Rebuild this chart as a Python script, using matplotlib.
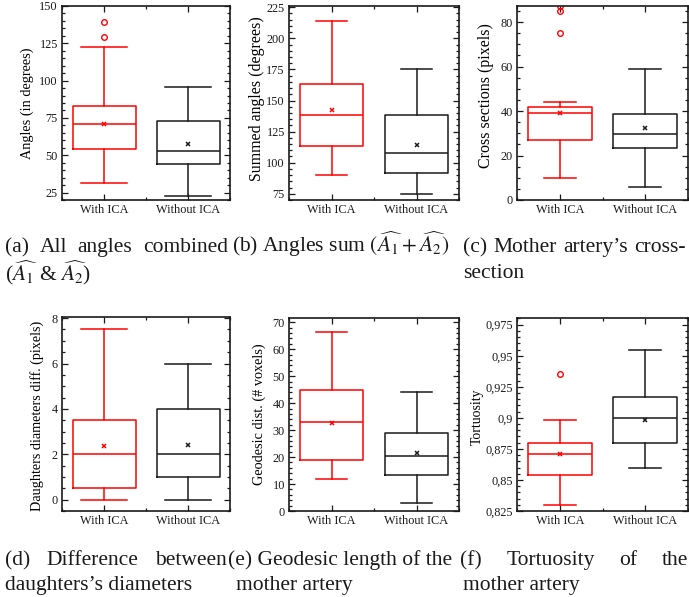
import numpy as np
import matplotlib
matplotlib.use('Agg')
import matplotlib.pyplot as plt
from matplotlib.ticker import MultipleLocator, AutoMinorLocator, FuncFormatter

plt.rcParams['font.family'] = ['Liberation Serif', 'DejaVu Serif']
plt.rcParams['mathtext.fontset'] = 'stix'

W, H = 689, 597
RED = '#ff0000'
BLACK = '#1a1a1a'

groups = ['With ICA', 'Without ICA']

# whisker low, q1, median, q3, whisker high
angles_with = [31.5, 54, 71, 83, 122.5]
angles_with_mean = 71
angles_with_out = [129.3, 139.5]
angles_without = [23, 44, 53, 73, 95.5]
angles_without_mean = 57.5

sum_with = [90, 113.5, 138.5, 163, 214]
sum_with_mean = 142
sum_without = [74.5, 92, 108, 138, 175.5]
sum_without_mean = 114.5

cross_with = [10, 27, 39, 42, 44]
cross_with_mean = 39
cross_with_out = [75, 85, 87]
cross_without = [6, 23.5, 29.5, 38.8, 59]
cross_without_mean = 32.5

diam_with = [0, 0.5, 2, 3.5, 7.5]
diam_with_mean = 2.35
diam_without = [0, 1, 2, 4, 6]
diam_without_mean = 2.4

geo_with = [12, 19, 33, 45, 66.5]
geo_with_mean = 32.5
geo_without = [3, 13.5, 20.5, 29, 44]
geo_without_mean = 21.5

tort_with = [0.830, 0.854, 0.871, 0.880, 0.898]
tort_with_mean = 0.871
tort_with_out = [0.935]
tort_without = [0.860, 0.880, 0.900, 0.917, 0.955]
tort_without_mean = 0.898


def px_axes(fig, left, top, right, bottom):
    return fig.add_axes([left / W, 1 - bottom / H, (right - left) / W, (bottom - top) / H])


def one_box(ax, vals, mean, fliers, pos, color, capw):
    st = dict(whislo=vals[0], q1=vals[1], med=vals[2], q3=vals[3], whishi=vals[4],
              mean=mean, fliers=fliers)
    lp = dict(color=color, linewidth=1.1)
    ax.bxp([st], positions=[pos], widths=0.75, capwidths=capw, showmeans=True,
           boxprops=lp, medianprops=lp, whiskerprops=lp, capprops=lp,
           meanprops=dict(marker='x', markersize=3.5, markeredgecolor=color,
                          markeredgewidth=1.1, linestyle='none'),
           flierprops=dict(marker='o', markersize=4, markerfacecolor='none',
                           markeredgecolor=color, markeredgewidth=1.0, linestyle='none'))


def panel(ax, box, w, wm, wf, wo, wom, ylabel, lsize, lx, ly, ylim, step, nminor, capw, fmt=None):
    one_box(ax, w, wm, wf, 1, RED, capw)
    one_box(ax, wo, wom, [], 2, BLACK, capw)
    ax.set_xlim(0.5, 2.5)
    ax.set_ylim(*ylim)
    ax.set_xticks([1, 2])
    ax.set_xticklabels(groups)
    ax.xaxis.set_minor_locator(MultipleLocator(0.5))
    ax.yaxis.set_major_locator(MultipleLocator(step))
    ax.yaxis.set_minor_locator(AutoMinorLocator(nminor))
    if fmt is not None:
        ax.yaxis.set_major_formatter(FuncFormatter(fmt))
    ax.tick_params(which='both', direction='in', top=True, right=True, labelsize=8.8,
                   colors=BLACK, width=0.9)
    ax.tick_params(which='major', length=4, pad=3)
    ax.tick_params(which='minor', length=2)
    ax.set_ylabel(ylabel, fontsize=lsize)
    # right edge of the rotated label, in pixels
    ax.yaxis.set_label_coords((lx - box[0]) / (box[2] - box[0]), ly)
    for s in ax.spines.values():
        s.set_linewidth(1.2)
        s.set_color(BLACK)


fig = plt.figure(figsize=(W / 100, H / 100), dpi=100)

b = (62, 6, 230, 200)
panel(px_axes(fig, *b), b, angles_with, angles_with_mean, angles_with_out, angles_without,
      angles_without_mean, 'Angles (in degrees)', 10.3, 34, 0.5, (20, 150), 25, 5, 0.54)

b = (289, 6, 459, 200)
panel(px_axes(fig, *b), b, sum_with, sum_with_mean, [], sum_without, sum_without_mean,
      'Summed angles (degrees)', 11.4, 265, 0.52, (70, 226), 25, 5, 0.37)

b = (517, 6, 688, 200)
panel(px_axes(fig, *b), b, cross_with, cross_with_mean, cross_with_out, cross_without,
      cross_without_mean, 'Cross sections (pixels)', 11.5, 494, 0.54, (0, 87.2), 20, 4, 0.37)

b = (62, 317, 230, 511)
panel(px_axes(fig, *b), b, diam_with, diam_with_mean, [], diam_without, diam_without_mean,
      'Daughters diameters diff. (pixels)', 10.2, 44, 0.49, (-0.5, 8.05), 2, 4, 0.54)

b = (289, 318, 459, 511)
panel(px_axes(fig, *b), b, geo_with, geo_with_mean, [], geo_without, geo_without_mean,
      'Geodesic dist. (# voxels)', 10.3, 266, 0.5, (0, 71.6), 10, 5, 0.37)

b = (517, 318, 688, 511)
panel(px_axes(fig, *b), b, tort_with, tort_with_mean, tort_with_out, tort_without,
      tort_without_mean, 'Tortuosity', 9.9, 484, 0.49, (0.825, 0.9804), 0.025, 5, 0.37,
      fmt=lambda v, p: ('%g' % round(v, 4)).replace('.', ','))

# captions
CAP = 15.5
renderer = fig.canvas.get_renderer()


def cap_line(words, x0, y, x1=None):
    # words spread from x0 to x1 (justified) or one piece at x0
    if x1 is None:
        fig.text(x0 / W, 1 - y / H, ' '.join(words), fontsize=CAP, va='baseline', color=BLACK)
        return
    ts = [fig.text(x0 / W, 1 - y / H, wd, fontsize=CAP, va='baseline', color=BLACK) for wd in words]
    widths = [t.get_window_extent(renderer).width for t in ts]
    gap = (x1 - x0 - sum(widths)) / (len(words) - 1)
    x = x0
    for t, wdt in zip(ts, widths):
        t.set_x(x / W)
        x += wdt + gap


cap_line(['(a)', 'All', 'angles', 'combined'], 5, 252, 228)
cap_line([r'($\widehat{A_1}$ & $\widehat{A_2}$)'], 5, 280)
cap_line([r'(b) Angles sum $(\widehat{A_1}+\widehat{A_2})$'], 232, 252)
cap_line(['(c)', 'Mother', 'artery\u2019s', 'cross-'], 463, 252, 686)
cap_line(['section'], 463, 278)

cap_line(['(d)', 'Difference', 'between'], 5, 565, 227)
cap_line(['daughters\u2019s diameters'], 5, 590)
cap_line(['(e) Geodesic length of the'], 228, 565)
cap_line(['mother artery'], 236, 590)
cap_line(['(f)', 'Tortuosity', 'of', 'the'], 460, 565, 688)
cap_line(['mother artery'], 463, 590)

fig.savefig('out.png', dpi=100)
